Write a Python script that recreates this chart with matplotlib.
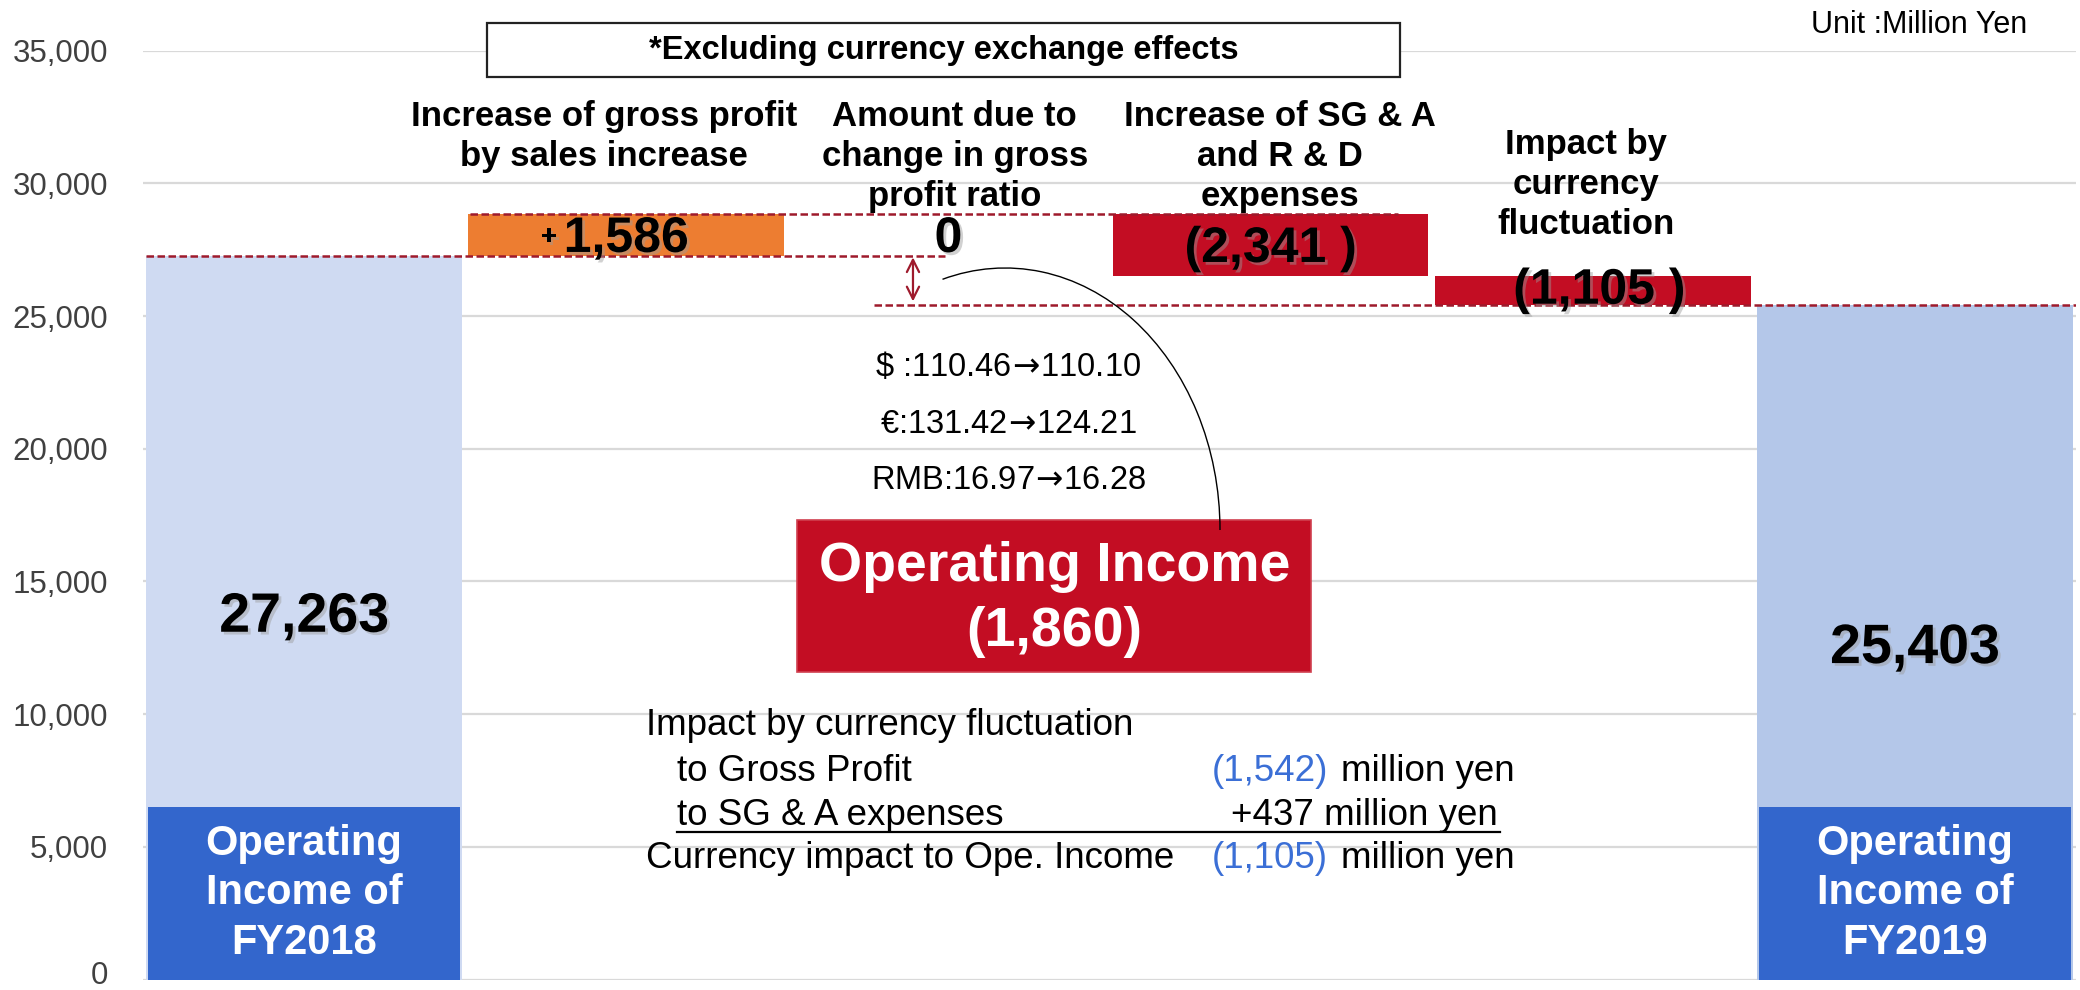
import matplotlib
matplotlib.use('Agg')
import matplotlib.pyplot as plt
import matplotlib.patheffects as pe
import matplotlib.transforms as mtransforms
from matplotlib.patches import Rectangle, Arc
from matplotlib.ticker import StrMethodFormatter

plt.rcParams['font.family'] = ['Liberation Sans', 'DejaVu Sans']

# ---------------- data ----------------
categories = ['FY2018', 'Sales increase', 'Gross profit ratio', 'SG&A and R&D', 'Currency', 'FY2019']
values = [27263, 1586, 0, -2341, -1105, 25403]
is_total = [True, False, False, False, False, True]
bar_colors = ['#cfdaf2', '#ed7d31', '#ed7d31', '#c30d23', '#c30d23', '#b4c7e9']
value_labels = ['27,263', '1,586', '0', '(2,341 )', '(1,105 )', '25,403']
header_labels = [None,
                 'Increase of gross profit\nby sales increase',
                 'Amount due to\nchange in gross\nprofit ratio',
                 'Increase of SG & A\nand R & D\nexpenses',
                 'Impact by\ncurrency\nfluctuation',
                 None]
header_x = [None, 0.93, 2.02, 3.03, 3.98, None]
header_top = [None, 33150, 33150, 33150, 32090, None]
total_box_labels = ['Operating\nIncome of\nFY2018', None, None, None, None, 'Operating\nIncome of\nFY2019']
total_box_height = 6500
yticks = [0, 5000, 10000, 15000, 20000, 25000, 30000, 35000]
rate_lines = [r'\$ :110.46$\!\rightarrow\!$110.10', r'€:131.42$\!\rightarrow\!$124.21',
              r'RMB:16.97$\!\rightarrow\!$16.28']
rate_y = [23071, 20929, 18786]
total_change_label = 'Operating Income\n(1,860)'
note_label = '*Excluding currency exchange effects'
unit_label = 'Unit :Million Yen'
fx_title = 'Impact by currency fluctuation'
fx_rows = ['to Gross Profit', 'to SG & A expenses', 'Currency impact to Ope. Income']
fx_values = ['(1,542)', '+437 million yen', '(1,105)']
fx_value_blue = [True, False, True]
fx_y = [9575, 7846, 6192, 4575]

# ---------------- waterfall geometry from data ----------------
bottoms, heights, levels = [], [], []
running = 0
for v, tot in zip(values, is_total):
    if tot:
        bottoms.append(0); heights.append(v); running = v
    else:
        bottoms.append(running + min(v, 0)); heights.append(abs(v)); running += v
    levels.append(running)

fig = plt.figure(figsize=(20.8, 9.9), dpi=100)
ax = fig.add_axes([143/2080, 10.5/990, 1933/2080, 928.8/990])
ax.set_xlim(-0.5, 5.5)
ax.set_ylim(0, 35000)
for s in ax.spines.values():
    s.set_visible(False)
ax.set_yticks(yticks)
ax.yaxis.set_major_formatter(StrMethodFormatter('{x:,.0f}'))
ax.tick_params(axis='y', length=0, pad=25, labelsize=22.5, labelcolor='#404040')
ax.set_xticks([])
ax.grid(axis='y', color='#d9d9d9', linewidth=1.6, zorder=0)
ax.set_axisbelow(True)
# keep the bottom "0" label inside the canvas
lab0 = ax.yaxis.get_major_ticks()[0].label1
lab0.set_transform(lab0.get_transform() + mtransforms.ScaledTranslation(0, 5/72, fig.dpi_scale_trans))

x = list(range(len(categories)))
ax.bar(x, heights, bottom=bottoms, width=0.98, color=bar_colors, zorder=2)

# dark blue label boxes on total bars
for i, lab in enumerate(total_box_labels):
    if lab is None:
        continue
    ax.bar(i, total_box_height, bottom=0, width=0.97, color='#3366cc', zorder=3)
    ax.text(i, total_box_height / 2, lab, ha='center', va='center', color='white',
            fontsize=30, fontweight='bold', zorder=4, linespacing=1.3)

shadow = [pe.SimplePatchShadow(offset=(2, -2), shadow_rgbFace='#9a9a9a', alpha=0.45), pe.Normal()]

# value labels
label_y = []
for i, (b, h) in enumerate(zip(bottoms, heights)):
    if is_total[i]:
        yy = h / 2
    elif h == 0:
        yy = label_y[-1]
    else:
        yy = b + h / 2
    label_y.append(yy)
    fs = 40 if is_total[i] else 36
    dy = -150 if i in (1, 2, 3) else (-250 if i == 5 else 0)
    ax.text(i + (0.02 if i == 4 else 0), yy + dy, value_labels[i], ha='center', va='center', fontsize=fs,
            fontweight='bold', color='black', zorder=5, path_effects=shadow)
ax.text(0.785, label_y[1] - 100, '+', ha='right', va='center', fontsize=20, fontweight='bold',
        zorder=5, path_effects=shadow)

# header labels
for i, lab in enumerate(header_labels):
    if lab is None:
        continue
    ax.text(header_x[i], header_top[i], lab, ha='center', va='top', fontsize=25,
            fontweight='bold', color='black', linespacing=1.27, zorder=5)

# dashed level lines
dash = dict(color='#9e1a2c', linestyle=(0, (3, 1.4)), linewidth=1.8, zorder=4)
ax.plot([-0.49, 1.99], [levels[0], levels[0]], **dash)
ax.plot([0.515, 3.395], [levels[1], levels[1]], **dash)
ax.plot([1.77, 5.5], [levels[5], levels[5]], **dash)

# double arrow for gross profit ratio change
ax.annotate('', xy=(1.89, levels[5] + 150), xytext=(1.89, levels[0] - 50),
            arrowprops=dict(arrowstyle='<->', color='#9e1a2c', lw=1.6,
                            mutation_scale=22, shrinkA=0, shrinkB=0), zorder=5)

# arc connecting to the operating income box (figure inches)
arc = Arc((10.05, 4.60), 4.30, 5.24, theta1=0, theta2=104,
          transform=fig.dpi_scale_trans, color='black', lw=1.0, zorder=3)
fig.add_artist(arc)

# exchange rates
for t, yy in zip(rate_lines, rate_y):
    ax.text(2.185, yy, t, ha='center', va='center', fontsize=23.5, color='black', zorder=5)

# operating income change box
ax.add_patch(Rectangle((1.53, 11597), 1.595, 5715, facecolor='#c30d23',
                       edgecolor='#d0404f', lw=1.2, zorder=4))
ax.text(2.33, 14330, total_change_label, ha='center', va='center', fontsize=40,
        fontweight='bold', color='white', zorder=5, linespacing=1.32)

# note box at top
ax.add_patch(Rectangle((0.568, 34012), 2.834, 2029, facecolor='white',
                       edgecolor='#222222', lw=1.6, zorder=5, clip_on=False))
ax.text(1.985, 35026, note_label, ha='center', va='center', fontsize=23.5,
        fontweight='bold', zorder=6, clip_on=False)

ax.text(5.348, 35950, unit_label, ha='right', va='center', fontsize=22, color='black')

# currency impact block
fs_fx = 26.5
ax.text(1.061, fx_y[0], fx_title, ha='left', va='center', fontsize=fs_fx, color='black', zorder=5)
ax.text(1.158, fx_y[1], fx_rows[0], ha='left', va='center', fontsize=fs_fx, zorder=5)
ax.text(1.158, fx_y[2], fx_rows[1], ha='left', va='center', fontsize=fs_fx, zorder=5)
ax.text(1.061, fx_y[3], fx_rows[2], ha='left', va='center', fontsize=fs_fx, zorder=5)
blue = '#3b6fd6'
ax.text(2.818, fx_y[1], fx_values[0], ha='left', va='center', fontsize=fs_fx,
        color=blue if fx_value_blue[0] else 'black', zorder=5)
ax.text(3.22, fx_y[1], 'million yen', ha='left', va='center', fontsize=fs_fx, zorder=5)
ax.text(2.877, fx_y[2], fx_values[1], ha='left', va='center', fontsize=fs_fx,
        color=blue if fx_value_blue[1] else 'black', zorder=5)
ax.text(2.818, fx_y[3], fx_values[2], ha='left', va='center', fontsize=fs_fx,
        color=blue if fx_value_blue[2] else 'black', zorder=5)
ax.text(3.22, fx_y[3], 'million yen', ha='left', va='center', fontsize=fs_fx, zorder=5)
ax.plot([1.158, 3.712], [5575, 5575], color='black', lw=1.6, zorder=5)

fig.savefig('out.png', dpi=100)
